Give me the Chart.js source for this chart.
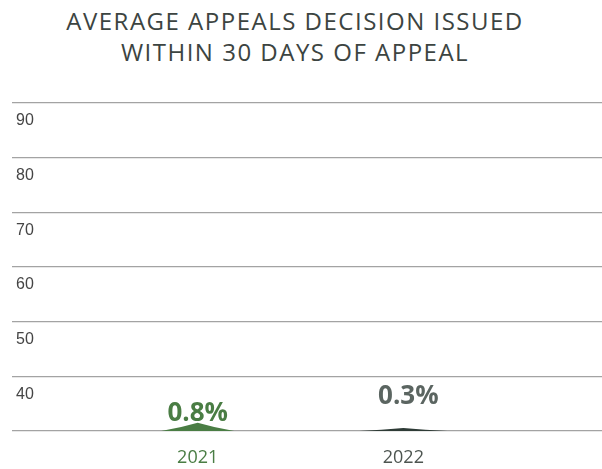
<!DOCTYPE html>
<html>
<head>
<meta charset="utf-8">
<script src="https://cdn.jsdelivr.net/npm/chart.js@4.4.1/dist/chart.umd.min.js"></script>
<style>
    body { margin: 0; background: #fff; }
    #wrap { position: relative; width: 602px; height: 469px; }
    #title {
        position: absolute; top: 5px; left: 0; width: 590px;
        text-align: center; font-family: "Open Sans", sans-serif;
        font-size: 24px; letter-spacing: 1.5px; line-height: 31px; color: #3c4441;
    }
    canvas { position: absolute; top: 0; left: 0; }
</style>
</head>
<body>
<div id="wrap">
    <div id="title">AVERAGE APPEALS DECISION ISSUED<br>WITHIN 30 DAYS OF APPEAL</div>
    <canvas id="appealsChart" width="602" height="469"></canvas>
</div>
<script>
// chart data
const years = ["2021", "2022"];
const pctWithin30 = [0.8, 0.3];
const yTicks = [30, 40, 50, 60, 70, 80, 90];

// styling per year
const peakColors = ["#4a7d44", "#2e3b36"];
const labelColors = ["#4a7d44", "#5b6561"];
const tickColors = ["#4a7d44", "#4d5550"];
const peakWidths = [73, 88];
const labelLift = [10, 27];
const labelShift = [0, 5];

// draw each bar as a low "peak" and put the % value above it
const peakPlugin = {
    id: "peaks",
    afterDatasetsDraw(chart) {
        const ctx = chart.ctx;
        const meta = chart.getDatasetMeta(0);
        meta.data.forEach((bar, i) => {
            const hw = peakWidths[i] / 2;
            const h = bar.base - bar.y;
            ctx.save();
            ctx.fillStyle = peakColors[i];
            ctx.beginPath();
            ctx.moveTo(bar.x - hw, bar.base);
            ctx.quadraticCurveTo(bar.x - hw * 0.5, bar.base - h * 0.35, bar.x, bar.y);
            ctx.quadraticCurveTo(bar.x + hw * 0.5, bar.base - h * 0.35, bar.x + hw, bar.base);
            ctx.closePath();
            ctx.fill();

            ctx.font = "bold 26px 'Open Sans', sans-serif";
            ctx.fillStyle = labelColors[i];
            ctx.textAlign = "center";
            ctx.textBaseline = "alphabetic";
            ctx.fillText(pctWithin30[i] + "%", bar.x + labelShift[i], bar.base - labelLift[i]);
            ctx.restore();
        });
    }
};

const chart = new Chart(document.getElementById("appealsChart"), {
    type: "bar",
    data: {
        datasets: [{
            data: years.map((y, i) => ({ x: i, y: pctWithin30[i] })),
            yAxisID: "yBar",
            backgroundColor: "rgba(0,0,0,0)",
            borderWidth: 0
        }]
    },
    options: {
        responsive: false,
        animation: false,
        layout: { padding: { top: 103, left: 4, right: 0, bottom: 0 } },
        plugins: {
            legend: { display: false },
            tooltip: { enabled: false }
        },
        scales: {
            x: {
                type: "linear",
                offset: false,
                min: -0.903,
                max: 1.966,
                afterBuildTicks: scale => { scale.ticks = years.map((y, i) => ({ value: i })); },
                afterFit: scale => { scale.height = 38; },
                grid: { display: false },
                border: { display: false },
                ticks: {
                    padding: 8,
                    maxRotation: 0,
                    font: { family: "'Open Sans', sans-serif", size: 18 },
                    color: c => tickColors[c.index],
                    callback: v => years[v]
                }
            },
            y: {
                min: yTicks[0],
                max: yTicks[yTicks.length - 1],
                afterBuildTicks: scale => { scale.ticks = yTicks.map(v => ({ value: v })); },
                border: { display: false },
                grid: { color: "#a3a3a3", lineWidth: 1.3, drawTicks: false },
                ticks: {
                    mirror: true,
                    padding: 4,
                    labelOffset: 18,
                    font: { family: "'Liberation Sans', Arial, sans-serif", size: 16 },
                    color: "#454545",
                    callback: v => (v === yTicks[0] ? "" : v)
                }
            },
            yBar: {
                display: false,
                min: 0,
                max: 32
            }
        }
    },
    plugins: [peakPlugin]
});
</script>
</body>
</html>
